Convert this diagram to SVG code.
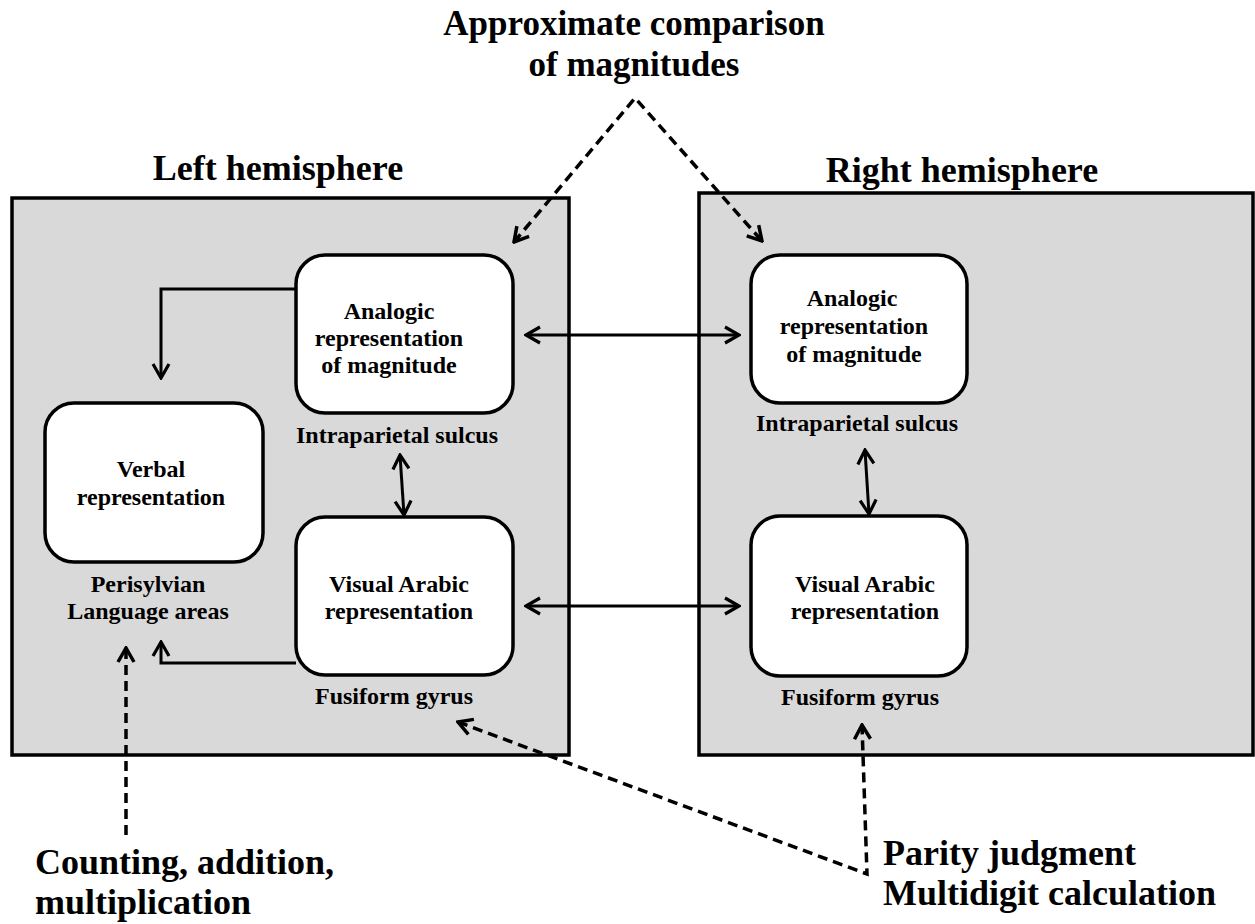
<svg xmlns="http://www.w3.org/2000/svg" width="1255" height="924" viewBox="0 0 1255 924">
<style>
text{font-family:"Liberation Serif","Times New Roman",serif;font-weight:bold;fill:#000;text-anchor:middle}
.hem{fill:#d9d9d9;stroke:#000;stroke-width:3.5}
.node{fill:#fff;stroke:#000;stroke-width:3.5}
.t{font-size:24px}
.big{font-size:36px}
.title{font-size:35px}
.ln{fill:none;stroke:#000;stroke-width:3}
.ds{fill:none;stroke:#000;stroke-width:3.5;stroke-dasharray:10 6}
.st{text-anchor:start}
</style>
<defs>
<marker id="ah" viewBox="0 0 18 20" refX="16" refY="10" markerWidth="18" markerHeight="20" markerUnits="userSpaceOnUse" orient="auto-start-reverse">
<path d="M2,2 L16,10 L2,18" fill="none" stroke="#000" stroke-width="3.2"/>
</marker>
<marker id="ah2" viewBox="0 0 18 20" refX="16" refY="10" markerWidth="18" markerHeight="20" markerUnits="userSpaceOnUse" orient="auto-start-reverse">
<path d="M2,2 L16,10 L2,18" fill="none" stroke="#000" stroke-width="3.5"/>
</marker>
</defs>

<g id="title">
<text class="title" x="634" y="35">Approximate comparison</text>
<text class="title" x="634" y="76">of magnitudes</text>
</g>

<g id="left-hemisphere">
<text class="big" x="278" y="180">Left hemisphere</text>
<rect class="hem" x="12" y="198" width="557" height="557"/>
</g>
<g id="right-hemisphere">
<text class="big" x="962" y="182">Right hemisphere</text>
<rect class="hem" x="699" y="193" width="554" height="562"/>
</g>

<g id="left-analogic">
<rect class="node" x="296" y="255" width="217" height="158" rx="29"/>
<text class="t" x="389" y="319">Analogic</text>
<text class="t" x="389" y="346">representation</text>
<text class="t" x="389" y="373">of magnitude</text>
<text class="t" x="397" y="443">Intraparietal sulcus</text>
</g>

<g id="left-verbal">
<rect class="node" x="45" y="403" width="218" height="159" rx="29"/>
<text class="t" x="151" y="477">Verbal</text>
<text class="t" x="151" y="505">representation</text>
<text class="t" x="148" y="592">Perisylvian</text>
<text class="t" x="148" y="619">Language areas</text>
</g>

<g id="left-visual">
<rect class="node" x="296" y="517" width="217" height="158" rx="29"/>
<text class="t" x="399" y="592">Visual Arabic</text>
<text class="t" x="399" y="619">representation</text>
<text class="t" x="394" y="704">Fusiform gyrus</text>
</g>

<g id="right-analogic">
<rect class="node" x="751" y="255" width="216" height="148" rx="29"/>
<text class="t" x="852" y="306">Analogic</text>
<text class="t" x="854" y="334">representation</text>
<text class="t" x="854" y="362">of magnitude</text>
<text class="t" x="857" y="431">Intraparietal sulcus</text>
</g>

<g id="right-visual">
<rect class="node" x="751" y="516" width="216" height="160" rx="29"/>
<text class="t" x="865" y="592">Visual Arabic</text>
<text class="t" x="865" y="619">representation</text>
<text class="t" x="860" y="705">Fusiform gyrus</text>
</g>

<g id="bottom-left-label">
<text class="big st" x="35" y="874">Counting, addition,</text>
<text class="big st" x="35" y="914">multiplication</text>
</g>
<g id="bottom-right-label">
<text class="big st" x="883" y="865">Parity judgment</text>
<text class="big st" x="883" y="905">Multidigit calculation</text>
</g>

<g id="connectors">
<polyline class="ln" points="296,289 161,289 161,378" marker-end="url(#ah)"/>
<polyline class="ln" points="296,663 161,663 161,642" marker-end="url(#ah)"/>
<line class="ln" x1="526" y1="335" x2="739" y2="335" marker-start="url(#ah)" marker-end="url(#ah)"/>
<line class="ln" x1="526" y1="606" x2="739" y2="606" marker-start="url(#ah)" marker-end="url(#ah)"/>
<line class="ln" x1="400" y1="455" x2="404" y2="515" marker-start="url(#ah)" marker-end="url(#ah)"/>
<line class="ln" x1="865" y1="450" x2="869" y2="514" marker-start="url(#ah)" marker-end="url(#ah)"/>
<polyline class="ds" points="514,242 635,98 762,241" marker-start="url(#ah2)" marker-end="url(#ah2)"/>
<line class="ds" x1="126" y1="835" x2="126" y2="648" marker-end="url(#ah2)"/>
<polyline class="ds" points="458,722 867,874 862,725" marker-start="url(#ah2)" marker-end="url(#ah2)"/>
</g>
</svg>
